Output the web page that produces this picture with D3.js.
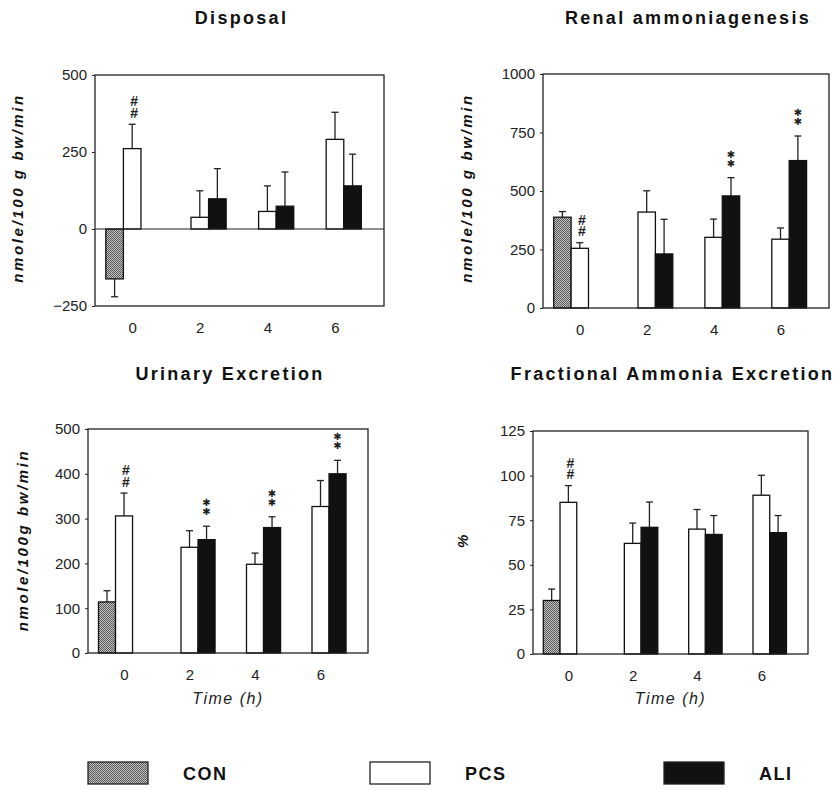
<!DOCTYPE html>
<html>
<head>
<meta charset="utf-8">
<script src="https://cdn.jsdelivr.net/npm/d3@7"></script>
<style>
  body { margin: 0; background: #fff; }
  svg { display: block; font-family: "Liberation Sans", Arial, sans-serif; }
</style>
</head>
<body>
<div id="chart"></div>
<script>
// data
const times = [0, 2, 4, 6];
const seriesNames = ["CON", "PCS", "ALI"];

const disposalCON = [-162, null, null, null];
const disposalCONErr = [58, null, null, null];
const disposalPCS = [261, 38, 57, 291];
const disposalPCSErr = [79, 86, 83, 88];
const disposalALI = [null, 98, 74, 140];
const disposalALIErr = [null, 98, 111, 103];

const renalCON = [388, null, null, null];
const renalCONErr = [24, null, null, null];
const renalPCS = [255, 410, 302, 294];
const renalPCSErr = [24, 91, 78, 48];
const renalALI = [null, 231, 479, 630];
const renalALIErr = [null, 148, 78, 105];

const urinaryCON = [114, null, null, null];
const urinaryCONErr = [25, null, null, null];
const urinaryPCS = [306, 236, 198, 327];
const urinaryPCSErr = [51, 37, 25, 58];
const urinaryALI = [null, 253, 280, 400];
const urinaryALIErr = [null, 30, 24, 30];

const fractionCON = [30, null, null, null];
const fractionCONErr = [6.4, null, null, null];
const fractionPCS = [85, 62, 70, 89];
const fractionPCSErr = [9.4, 11.4, 11, 11.2];
const fractionALI = [null, 71, 67, 68];
const fractionALIErr = [null, 14.2, 10.6, 9.6];

// significance marks: [series, time index, glyphs]
const disposalMarks = [["PCS", 0, "##"]];
const renalMarks = [["PCS", 0, "##"], ["ALI", 2, "✱✱"], ["ALI", 3, "✱✱"]];
const urinaryMarks = [["PCS", 0, "##"], ["ALI", 1, "✱✱"], ["ALI", 2, "✱✱"], ["ALI", 3, "✱✱"]];
const fractionMarks = [["PCS", 0, "##"]];

const disposalTicks = [-250, 0, 250, 500];
const renalTicks = [0, 250, 500, 750, 1000];
const urinaryTicks = [0, 100, 200, 300, 400, 500];
const fractionTicks = [0, 25, 50, 75, 100, 125];

const titles = ["Disposal", "Renal ammoniagenesis", "Urinary Excretion", "Fractional Ammonia Excretion"];
const yLabels = ["nmole/100 g bw/min", "nmole/100 g bw/min", "nmole/100g bw/min", "%"];

const width = 836, height = 790;

const svg = d3.select("#chart").append("svg")
  .attr("width", width).attr("height", height);

const defs = svg.append("defs");
const pat = defs.append("pattern")
  .attr("id", "stipple")
  .attr("patternUnits", "userSpaceOnUse")
  .attr("width", 2).attr("height", 2);
pat.append("rect").attr("width", 2).attr("height", 2).attr("fill", "#c6c6c6");
pat.append("rect").attr("width", 1).attr("height", 1).attr("fill", "#555");
pat.append("rect").attr("x", 1).attr("y", 1).attr("width", 1).attr("height", 1).attr("fill", "#555");

const fills = {CON: "url(#stipple)", PCS: "#fff", ALI: "#111"};
const offsets = {CON: -1, PCS: 0, ALI: 1};

const panels = [
  {box: {left: 95, right: 384, top: 75, bottom: 306}, domain: [-250, 500], ticks: disposalTicks,
   vals: {CON: disposalCON, PCS: disposalPCS, ALI: disposalALI},
   errs: {CON: disposalCONErr, PCS: disposalPCSErr, ALI: disposalALIErr},
   marks: disposalMarks, ylx: 18, yly: 188, titleY: 24, time: false},
  {box: {left: 543, right: 829, top: 74, bottom: 308}, domain: [0, 1000], ticks: renalTicks,
   vals: {CON: renalCON, PCS: renalPCS, ALI: renalALI},
   errs: {CON: renalCONErr, PCS: renalPCSErr, ALI: renalALIErr},
   marks: renalMarks, ylx: 467, yly: 188, titleY: 24, time: false},
  {box: {left: 88, right: 368, top: 429, bottom: 653}, domain: [0, 500], ticks: urinaryTicks,
   vals: {CON: urinaryCON, PCS: urinaryPCS, ALI: urinaryALI},
   errs: {CON: urinaryCONErr, PCS: urinaryPCSErr, ALI: urinaryALIErr},
   marks: urinaryMarks, ylx: 23, yly: 540, titleY: 380, time: true},
  {box: {left: 533, right: 808, top: 431, bottom: 654}, domain: [0, 125], ticks: fractionTicks,
   vals: {CON: fractionCON, PCS: fractionPCS, ALI: fractionALI},
   errs: {CON: fractionCONErr, PCS: fractionPCSErr, ALI: fractionALIErr},
   marks: fractionMarks, ylx: 463, yly: 540, titleY: 380, time: true}
];

panels.forEach((p, pi) => {
  const b = p.box;
  const x = d3.scaleLinear().domain([-1.1, 7.45]).range([b.left, b.right]);
  const y = d3.scaleLinear().domain(p.domain).range([b.bottom, b.top]);
  const bw = x(0.52) - x(0);
  const g = svg.append("g");

  // bars
  const bars = [];
  seriesNames.forEach(s => {
    p.vals[s].forEach((v, i) => {
      if (v == null) return;
      bars.push({s, t: times[i], v, e: p.errs[s][i]});
    });
  });

  const cx = d => x(d.t) + offsets[d.s] * bw;

  // error bars (one-sided, away from zero)
  const errTop = d => y(d.v + (d.v < 0 ? -d.e : d.e));
  g.selectAll(".err").data(bars).join("line")
    .attr("x1", cx).attr("x2", cx)
    .attr("y1", d => y(d.v)).attr("y2", errTop)
    .attr("stroke", "#222").attr("stroke-width", 1.3);
  g.selectAll(".cap").data(bars).join("line")
    .attr("x1", d => cx(d) - 3.5).attr("x2", d => cx(d) + 3.5)
    .attr("y1", errTop).attr("y2", errTop)
    .attr("stroke", "#222").attr("stroke-width", 1.3);

  g.selectAll(".bar").data(bars).join("rect")
    .attr("x", d => cx(d) - bw / 2)
    .attr("width", bw)
    .attr("y", d => Math.min(y(d.v), y(0)))
    .attr("height", d => Math.abs(y(d.v) - y(0)))
    .attr("fill", d => fills[d.s])
    .attr("stroke", "#111").attr("stroke-width", 1.3);

  // zero line
  if (p.domain[0] < 0) {
    g.append("line")
      .attr("x1", b.left).attr("x2", b.right)
      .attr("y1", y(0)).attr("y2", y(0))
      .attr("stroke", "#222").attr("stroke-width", 1.2);
  }

  // frame
  g.append("rect")
    .attr("x", b.left).attr("y", b.top)
    .attr("width", b.right - b.left).attr("height", b.bottom - b.top)
    .attr("fill", "none").attr("stroke", "#222").attr("stroke-width", 1.3);

  // significance marks, glyphs stacked vertically in one text
  p.marks.forEach(([s, i, glyphs]) => {
    const d = {s, t: times[i], v: p.vals[s][i], e: p.errs[s][i]};
    const isHash = glyphs[0] === "#";
    g.append("text")
      .attr("x", cx(d) + (isHash ? 2 : 0))
      .attr("y", errTop(d) - (isHash ? 8 : 11))
      .attr("text-anchor", "end")
      .style("writing-mode", "vertical-rl")
      .style("text-orientation", "upright")
      .style("font-family", isHash ? "'Liberation Sans', Arial" : "'DejaVu Sans'")
      .style("font-size", isHash ? "14px" : "10px")
      .style("letter-spacing", isHash ? "-4.5px" : "-2px")
      .style("font-weight", "bold")
      .attr("fill", "#222")
      .text(glyphs);
  });

  // axes
  const yAxis = d3.axisLeft(y).tickValues(p.ticks).tickFormat(d3.format("d"))
    .tickSize(3).tickPadding(5);
  const ya = g.append("g").attr("transform", `translate(${b.left},0)`).call(yAxis);
  ya.select(".domain").remove();
  ya.selectAll("line").attr("stroke", "#222");
  ya.selectAll("text").style("font-size", "15px").attr("fill", "#222");

  const xAxis = d3.axisBottom(x).tickValues(times).tickSize(0).tickPadding(16);
  const xa = g.append("g").attr("transform", `translate(0,${b.bottom})`).call(xAxis);
  xa.select(".domain").remove();
  xa.selectAll("text").style("font-size", "15px").attr("fill", "#222");

  // titles and labels
  svg.append("text")
    .attr("x", (b.left + b.right) / 2 + 2)
    .attr("y", p.titleY)
    .attr("text-anchor", "middle")
    .style("font-size", "18px")
    .style("font-weight", "bold")
    .style("letter-spacing", "2.3px")
    .attr("fill", "#111")
    .text(titles[pi]);

  svg.append("text")
    .attr("transform", `translate(${p.ylx},${p.yly}) rotate(-90)`)
    .attr("text-anchor", "middle")
    .attr("dy", "0.35em")
    .style("font-size", "15px")
    .style("font-weight", "bold")
    .style("font-style", "italic")
    .style("letter-spacing", "2.6px")
    .attr("fill", "#111")
    .text(yLabels[pi]);

  if (p.time) {
    svg.append("text")
      .attr("x", (b.left + b.right) / 2)
      .attr("y", 704)
      .attr("text-anchor", "middle")
      .style("font-size", "16px")
      .style("font-style", "italic")
      .style("letter-spacing", "1.5px")
      .attr("fill", "#222")
      .text("Time (h)");
  }
});

// legend
const legendX = [88, 370, 664];
const legend = svg.append("g");
seriesNames.forEach((s, i) => {
  legend.append("rect")
    .attr("x", legendX[i]).attr("y", 762)
    .attr("width", 60).attr("height", 22)
    .attr("fill", fills[s])
    .attr("stroke", "#222").attr("stroke-width", 1.3);
  legend.append("text")
    .attr("x", legendX[i] + 95)
    .attr("y", 780)
    .style("font-size", "18px")
    .style("font-weight", "bold")
    .style("letter-spacing", "1.5px")
    .attr("fill", "#111")
    .text(s);
});
</script>
</body>
</html>
